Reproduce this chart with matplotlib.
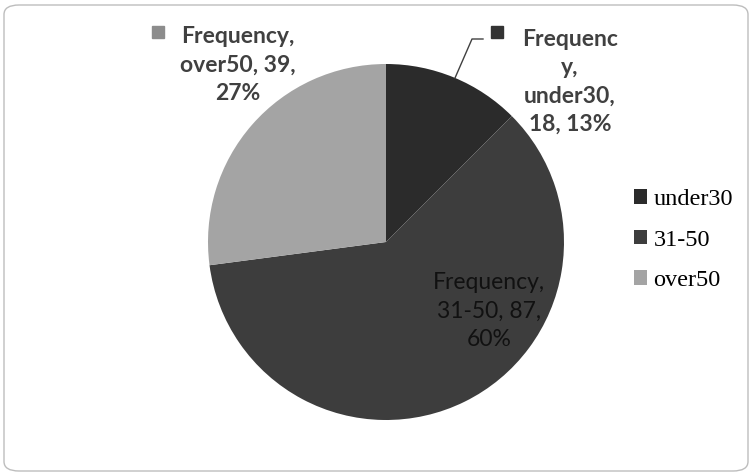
import matplotlib.pyplot as plt
from matplotlib.patches import FancyBboxPatch

categories = ["under30", "31-50", "over50"]
frequency = [18, 87, 39]
percents = ["13%", "60%", "27%"]
colors = ["#2b2b2b", "#3d3d3d", "#a4a4a4"]

W, H = 753, 475
fig = plt.figure(figsize=(W / 100, H / 100), dpi=100)

# rounded chart-area frame
frame = FancyBboxPatch((4 / W, 4 / H), (W - 9) / W, (H - 9) / H,
                       boxstyle="round,pad=0,rounding_size=0.02",
                       transform=fig.transFigure, facecolor="none",
                       edgecolor="#bdbdbd", linewidth=1.0, zorder=-1)
fig.patches.append(frame)

# pie axes: centre (386, 242) px, radius 178 px
cx, cy, r = 386, 242, 178
ax = fig.add_axes([(cx - r) / W, (H - cy - r) / H, 2 * r / W, 2 * r / H])
wedges, _ = ax.pie(frequency, colors=colors, startangle=90, counterclock=False,
                   radius=1, wedgeprops=dict(linewidth=0))
ax.set_xlim(-1, 1)
ax.set_ylim(-1, 1)
ax.set_aspect("equal")
ax.axis("off")


def px(x, y):
    # pixel -> pie data coords
    return (x - cx) / r, (cy - y) / r


lab_font = ["Lato", "DejaVu Sans"]
lab_size = 16.5
lab_ls = 1.42

# over50 label (outside, top left)
ax.text(*px(238, 65), "Frequency,\n%s, %d,\n%s" % (categories[2], frequency[2], percents[2]),
        ha="center", va="center", fontsize=lab_size, fontweight="bold",
        family=lab_font, color="#404040", linespacing=lab_ls, clip_on=False)
ax.add_patch(plt.Rectangle(px(152, 38), 12 / r, 12 / r, color="#8c8c8c",
                           clip_on=False, transform=ax.transData))

# under30 label (outside, top right) with leader line
ax.text(*px(570, 82), "Frequenc\ny,\n%s,\n%d, %s" % (categories[0], frequency[0], percents[0]),
        ha="center", va="center", fontsize=lab_size, fontweight="bold",
        family=lab_font, color="#404040", linespacing=lab_ls, clip_on=False)
ax.add_patch(plt.Rectangle(px(491, 38), 12 / r, 12 / r, color="#333333",
                           clip_on=False))
lx = [px(483, 39)[0], px(472, 39)[0], px(455, 78)[0]]
ly = [px(483, 39)[1], px(472, 39)[1], px(455, 78)[1]]
ax.plot(lx, ly, color="#404040", linewidth=1.0, clip_on=False)

# 31-50 label (inside)
ax.text(*px(489, 311), "Frequency,\n%s, %d,\n%s" % (categories[1], frequency[1], percents[1]),
        ha="center", va="center", fontsize=lab_size, family=lab_font,
        color="#111111", linespacing=lab_ls)

# legend
leg = fig.legend(wedges, categories, loc="center left",
                 bbox_to_anchor=(612 / W, (H - 240) / H), frameon=False,
                 prop=dict(family="Liberation Serif", size=17.5),
                 handlelength=0.55, handleheight=0.55, handletextpad=0.25,
                 labelspacing=0.8)

fig.savefig("out.png", dpi=100)
